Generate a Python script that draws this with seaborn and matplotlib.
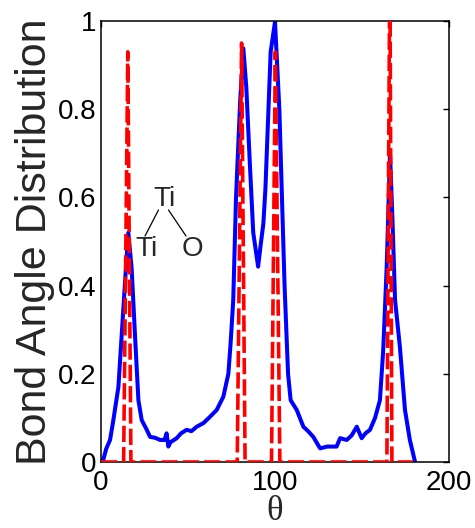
import numpy as np
import pandas as pd
import matplotlib
matplotlib.use("Agg")
import matplotlib.pyplot as plt
import seaborn as sns

# Bond angle distribution data
theta_blue = [0, 1.3, 3, 5.2, 7.1, 10, 12.8, 14.5, 15.7, 17.6, 19.5, 21.5, 23.4, 26.3,
              28.2, 31, 34, 36.5, 37.7, 38.7, 40, 43.5, 46, 49.2, 52, 55, 58.8, 62,
              66.5, 70.3, 73.2, 74.5, 76, 77.6, 80, 81.8, 83.5, 85.5, 87.5, 90.3, 92,
              93.3, 94.5, 97.5, 100, 102.5, 104, 105.5, 107.5, 109, 112.5, 116.3, 119,
              122, 125.9, 130, 135.4, 137.4, 141.2, 144, 147, 149.8, 152, 154.6, 157.5,
              160.3, 162.2, 164.2, 166.1, 167.5, 169, 171.8, 174.7, 177.5, 180.5]
value_blue = [0, 0.005, 0.03, 0.05, 0.095, 0.17, 0.345, 0.45, 0.52, 0.44, 0.29, 0.14,
              0.095, 0.073, 0.057, 0.055, 0.05, 0.05, 0.065, 0.035, 0.045, 0.054, 0.065,
              0.073, 0.07, 0.08, 0.088, 0.1, 0.118, 0.148, 0.2, 0.27, 0.367, 0.6, 0.82,
              0.938, 0.85, 0.68, 0.52, 0.443, 0.5, 0.54, 0.62, 0.93, 0.998, 0.8, 0.6, 0.4,
              0.2, 0.14, 0.118, 0.08, 0.07, 0.057, 0.031, 0.035, 0.035, 0.054, 0.05, 0.06,
              0.08, 0.054, 0.065, 0.073, 0.1, 0.14, 0.254, 0.443, 0.7, 0.55, 0.367, 0.26,
              0.118, 0.05, 0.0]

theta_red = [0, 13, 15.4, 17.2, 78.3, 80.8, 82.8, 98, 100.2, 102.8, 164.3, 166, 167.2, 179]
value_red = [0, 0, 0.93, 0, 0, 0.95, 0, 0, 0.93, 0, 0, 1.15, 0, 0]

x_ticks = [0, 100, 200]
y_ticks = [0, 0.2, 0.4, 0.6, 0.8, 1.0]
y_ticklabels = ["0", "0.2", "0.4", "0.6", "0.8", "1"]

sns.set_style("white")
plt.rcParams['font.family'] = ['Liberation Sans', 'DejaVu Sans']

fig = plt.figure(figsize=(4.75, 5.28), dpi=100)
ax = fig.add_axes([101 / 475, 66 / 528, 348 / 475, 441 / 528])

df_blue = pd.DataFrame({"theta": theta_blue, "value": value_blue})
df_red = pd.DataFrame({"theta": theta_red, "value": value_red})

sns.lineplot(data=df_blue, x="theta", y="value", ax=ax, color="#0000ff",
             lw=2.9, sort=False, estimator=None, zorder=2)
sns.lineplot(data=df_red, x="theta", y="value", ax=ax, color="#ff0000",
             lw=2.6, sort=False, estimator=None, zorder=3, linestyle=(0, (4.5, 1.4)))

ax.set_xlim(0, 200)
ax.set_ylim(0, 1)
ax.set_xticks(x_ticks)
ax.set_xticklabels([str(t) for t in x_ticks])
ax.set_yticks(y_ticks)
ax.set_yticklabels(y_ticklabels)
ax.tick_params(direction="in", length=4, width=1, labelsize=20, colors="black",
               top=True, right=True, pad=3)
ax.tick_params(axis="x", pad=6)
for s in ax.spines.values():
    s.set_color("black")
    s.set_linewidth(1.1)
    s.set_visible(True)

ax.set_ylabel("Bond Angle Distribution", fontsize=31, labelpad=2)
ax.set_xlabel("θ", fontsize=25, family=["Liberation Serif", "DejaVu Serif"], labelpad=-1)

# Ti-Ti-O annotation (in pixel-based figure coordinates)
def fx(px):
    return px / 475
def fy(py):
    return 1 - py / 528

fig.text(fx(165), fy(199), "Ti", fontsize=20, ha="center", va="center")
fig.text(fx(146), fy(249), "Ti", fontsize=20, ha="center", va="center")
fig.text(fx(192), fy(249), "O", fontsize=20, ha="center", va="center")
fig.add_artist(plt.Line2D([fx(158.5), fx(145)], [fy(210), fy(236)], color="black", lw=0.9))
fig.add_artist(plt.Line2D([fx(168.5), fx(186)], [fy(210), fy(236)], color="black", lw=0.9))

fig.savefig("out.png", dpi=100)
